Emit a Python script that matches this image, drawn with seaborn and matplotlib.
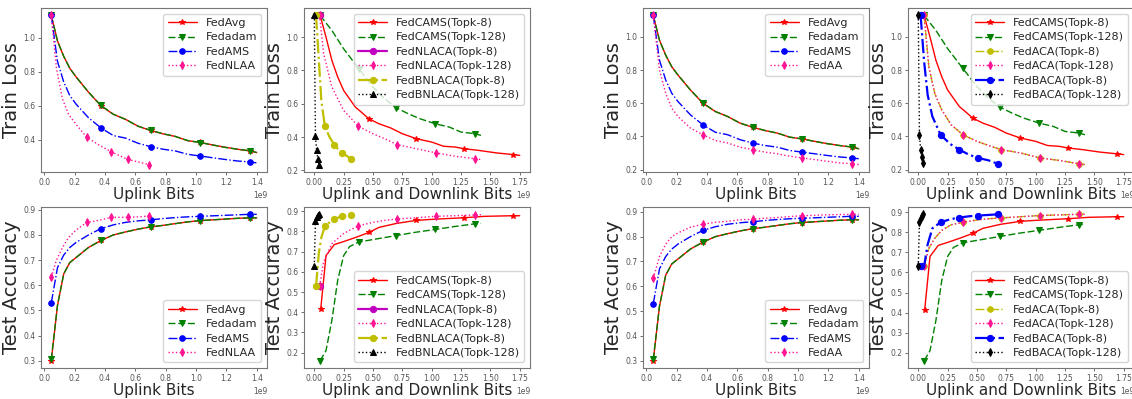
import matplotlib
matplotlib.use("Agg")
import matplotlib.pyplot as plt
import seaborn as sns
import pandas as pd

# ---- uplink bits (x in units of 1e9 bits) ----
up_x = [0.046, 0.087, 0.128, 0.168, 0.209, 0.291, 0.373, 0.455, 0.536, 0.618, 0.700,
        0.782, 0.863, 0.945, 1.027, 1.109, 1.190, 1.272, 1.354, 1.400]
up_marks = [0, 6, 10, 14, 18]

avg_loss = [1.13, 0.98, 0.89, 0.82, 0.77, 0.68, 0.60, 0.55, 0.52, 0.48, 0.455,
            0.435, 0.42, 0.395, 0.385, 0.37, 0.357, 0.345, 0.335, 0.325]
adam_loss = [1.13, 0.98, 0.89, 0.82, 0.77, 0.68, 0.602, 0.55, 0.52, 0.48, 0.456,
             0.436, 0.42, 0.396, 0.384, 0.37, 0.356, 0.345, 0.336, 0.326]
ams_loss = [1.13, 0.86, 0.74, 0.66, 0.61, 0.53, 0.47, 0.425, 0.41, 0.38, 0.36,
            0.345, 0.335, 0.315, 0.305, 0.295, 0.285, 0.276, 0.27, 0.265]
avg_acc = [0.30, 0.52, 0.645, 0.69, 0.71, 0.75, 0.778, 0.80, 0.812, 0.823, 0.832,
           0.838, 0.845, 0.852, 0.857, 0.860, 0.863, 0.866, 0.868, 0.868]
adam_acc = [0.305, 0.52, 0.645, 0.69, 0.71, 0.75, 0.778, 0.80, 0.812, 0.823, 0.832,
            0.838, 0.845, 0.852, 0.857, 0.860, 0.863, 0.866, 0.868, 0.868]
ams_acc = [0.53, 0.67, 0.72, 0.75, 0.77, 0.80, 0.825, 0.84, 0.85, 0.856, 0.86,
           0.865, 0.869, 0.872, 0.874, 0.876, 0.878, 0.880, 0.882, 0.882]

nlaa_x = [0.046, 0.08, 0.12, 0.16, 0.21, 0.28, 0.36, 0.44, 0.55, 0.62, 0.69]
nlaa_marks = [0, 5, 7, 8, 10]
nlaa_loss = [1.13, 0.82, 0.64, 0.55, 0.49, 0.415, 0.37, 0.33, 0.285, 0.27, 0.255]
nlaa_acc = [0.632, 0.70, 0.75, 0.79, 0.82, 0.85, 0.858, 0.87, 0.87, 0.872, 0.875]

aa_loss = [1.13, 0.80, 0.66, 0.57, 0.52, 0.45, 0.41, 0.375, 0.36, 0.335, 0.32,
           0.305, 0.295, 0.28, 0.27, 0.26, 0.25, 0.24, 0.235, 0.23]
aa_acc = [0.632, 0.72, 0.77, 0.80, 0.815, 0.838, 0.85, 0.858, 0.862, 0.868, 0.87,
          0.874, 0.877, 0.881, 0.884, 0.886, 0.888, 0.889, 0.89, 0.89]

# ---- uplink + downlink bits ----
cams8_x = [0.05, 0.10, 0.15, 0.20, 0.25, 0.30, 0.35, 0.40, 0.465, 0.55, 0.65, 0.75,
           0.87, 1.00, 1.10, 1.20, 1.275, 1.40, 1.55, 1.69, 1.75]
cams8_marks = [0, 8, 12, 16, 19]
cams8_loss = [1.13, 1.00, 0.86, 0.76, 0.68, 0.63, 0.58, 0.55, 0.51, 0.48, 0.455, 0.42,
              0.39, 0.37, 0.345, 0.34, 0.33, 0.32, 0.305, 0.295, 0.29]
cams8_acc_x = [0.055, 0.10, 0.17, 0.25, 0.35, 0.465, 0.55, 0.70, 0.87, 1.00, 1.10,
               1.275, 1.45, 1.69, 1.75]
cams8_acc_marks = [0, 5, 8, 11, 13]
cams8_acc = [0.415, 0.68, 0.735, 0.75, 0.77, 0.795, 0.82, 0.84, 0.855, 0.86, 0.863,
             0.868, 0.875, 0.878, 0.878]

cams128_x = [0.05, 0.15, 0.25, 0.38, 0.50, 0.60, 0.70, 0.80, 0.90, 1.03, 1.15, 1.25, 1.37, 1.42]
cams128_marks = [0, 3, 6, 9, 12]
cams128_loss = [1.13, 1.04, 0.93, 0.81, 0.70, 0.63, 0.575, 0.54, 0.51, 0.48, 0.46, 0.43, 0.42, 0.41]
cams128_acc_x = [0.05, 0.10, 0.15, 0.20, 0.25, 0.30, 0.38, 0.50, 0.70, 0.85, 1.03, 1.20, 1.37, 1.42]
cams128_acc_marks = [0, 6, 8, 10, 12]
cams128_acc = [0.16, 0.21, 0.36, 0.56, 0.68, 0.725, 0.748, 0.76, 0.78, 0.795, 0.81, 0.825, 0.838, 0.84]

nlaca8_x = [0.045]
nlaca8_loss = [1.13]
nlaca8_acc = [0.53]

nlaca128_x = [0.045, 0.08, 0.15, 0.25, 0.375, 0.50, 0.60, 0.705, 0.87, 1.035, 1.20, 1.365, 1.42]
nlaca128_marks = [0, 4, 7, 9, 11]
nlaca128_loss = [1.13, 0.90, 0.70, 0.56, 0.465, 0.42, 0.39, 0.355, 0.33, 0.305, 0.285, 0.27, 0.265]
nlaca128_acc = [0.53, 0.65, 0.74, 0.79, 0.828, 0.845, 0.855, 0.862, 0.868, 0.875, 0.878, 0.882, 0.883]

bnlaca8_x = [0.015, 0.04, 0.06, 0.09, 0.13, 0.17, 0.20, 0.24, 0.28, 0.31]
bnlaca8_marks = [0, 3, 5, 7, 9]
bnlaca8_loss = [1.13, 0.85, 0.62, 0.465, 0.40, 0.355, 0.33, 0.305, 0.285, 0.27]
bnlaca8_acc = [0.53, 0.70, 0.77, 0.825, 0.845, 0.862, 0.868, 0.875, 0.88, 0.882]

bnlaca128_x = [0.0, 0.01, 0.02, 0.03, 0.04]
bnlaca128_loss = [1.13, 0.405, 0.32, 0.27, 0.235]
bnlaca128_acc = [0.63, 0.85, 0.87, 0.88, 0.885]

aca_x = [0.05, 0.09, 0.14, 0.20, 0.28, 0.38, 0.50, 0.60, 0.705, 0.87, 1.035, 1.20, 1.365, 1.42]
aca_marks = [0, 5, 8, 10, 12]
aca_loss = [1.13, 0.82, 0.66, 0.56, 0.47, 0.41, 0.37, 0.345, 0.32, 0.30, 0.27, 0.255, 0.235, 0.23]
aca_acc = [0.632, 0.72, 0.77, 0.81, 0.838, 0.85, 0.862, 0.868, 0.872, 0.878, 0.884, 0.887, 0.89, 0.89]

baca8_x = [0.02, 0.05, 0.08, 0.12, 0.19, 0.27, 0.35, 0.43, 0.51, 0.60, 0.675]
baca8_marks = [0, 4, 6, 8, 10]
baca8_loss = [1.13, 0.85, 0.65, 0.52, 0.41, 0.355, 0.32, 0.29, 0.27, 0.255, 0.235]
baca8_acc = [0.632, 0.632, 0.74, 0.82, 0.85, 0.865, 0.874, 0.88, 0.884, 0.887, 0.89]

baca128_x = [0.0, 0.01, 0.02, 0.03, 0.04]
baca128_loss = [1.13, 0.41, 0.32, 0.275, 0.24]
baca128_acc = [0.632, 0.85, 0.87, 0.88, 0.89]

sns.set_style("ticks", {"axes.edgecolor": "#777777", "xtick.color": "#555555",
                        "ytick.color": "#555555"})

fig = plt.figure(figsize=(11.32, 3.99), dpi=100)
W, H = 1132, 399
lefts = [41, 304, 643, 908]
tops = [8, 207]
bottoms = [172, 368]
axw = 226
axes = [[fig.add_axes([l / W, 1 - b / H, axw / W, (b - t) / H])
         for l in lefts] for t, b in zip(tops, bottoms)]


def draw(ax, x, y, label, color, ls, marker, ms=4, every=None, lw=1.0):
    df = pd.DataFrame({"x": [v * 1e9 for v in x], "y": y})
    sns.lineplot(data=df, x="x", y="y", ax=ax, color=color, linestyle=ls, marker=marker,
                 markersize=ms, markevery=every, linewidth=lw, label=label,
                 markeredgecolor=color, sort=False, estimator=None)


def uplink_panel(ax, ys, last_label):
    draw(ax, up_x, ys[0], "FedAvg", "red", "-", "*", 4, up_marks)
    draw(ax, up_x, ys[1], "Fedadam", "green", (0, (5, 2)), "v", 4, up_marks)
    draw(ax, up_x, ys[2], "FedAMS", "blue", "-.", "o", 4, up_marks)
    draw(ax, ys[3][0], ys[3][1], last_label, "deeppink", ":", "d", 4, ys[3][2])


def finish(ax, ylabel, xlabel, loc):
    ax.set_xlabel(xlabel, fontsize=11, labelpad=0)
    ax.set_ylabel(ylabel, fontsize=14, labelpad=2)
    ax.tick_params(labelsize=5.5, length=2.5, width=0.6, pad=1.5)
    ax.xaxis.get_offset_text().set_fontsize(5.5)
    for s in ax.spines.values():
        s.set_visible(True)
        s.set_linewidth(0.8)
    ax.legend(loc=loc, fontsize=8, handlelength=2.6, labelspacing=0.4,
              borderpad=0.4, framealpha=0.8, edgecolor="#cccccc")


# left group
uplink_panel(axes[0][0], [avg_loss, adam_loss, ams_loss, (nlaa_x, nlaa_loss, nlaa_marks)], "FedNLAA")
uplink_panel(axes[1][0], [avg_acc, adam_acc, ams_acc, (nlaa_x, nlaa_acc, nlaa_marks)], "FedNLAA")
uplink_panel(axes[0][2], [avg_loss, adam_loss, ams_loss, (up_x, aa_loss, up_marks)], "FedAA")
uplink_panel(axes[1][2], [avg_acc, adam_acc, ams_acc, (up_x, aa_acc, up_marks)], "FedAA")

# uplink + downlink, NLACA group
ax = axes[0][1]
draw(ax, cams8_x, cams8_loss, "FedCAMS(Topk-8)", "red", "-", "*", 4, cams8_marks)
draw(ax, cams128_x, cams128_loss, "FedCAMS(Topk-128)", "green", (0, (5, 2)), "v", 4, cams128_marks)
draw(ax, nlaca8_x, nlaca8_loss, "FedNLACA(Topk-8)", "m", "-", "o", 4.5, None, 1.6)
draw(ax, nlaca128_x, nlaca128_loss, "FedNLACA(Topk-128)", "deeppink", ":", "d", 4, nlaca128_marks)
draw(ax, bnlaca8_x, bnlaca8_loss, "FedBNLACA(Topk-8)", "y", "-.", "o", 4.5, bnlaca8_marks, 1.6)
draw(ax, bnlaca128_x, bnlaca128_loss, "FedBNLACA(Topk-128)", "black", ":", "^", 4)

ax = axes[1][1]
draw(ax, cams8_acc_x, cams8_acc, "FedCAMS(Topk-8)", "red", "-", "*", 4, cams8_acc_marks)
draw(ax, cams128_acc_x, cams128_acc, "FedCAMS(Topk-128)", "green", (0, (5, 2)), "v", 4, cams128_acc_marks)
draw(ax, nlaca8_x, nlaca8_acc, "FedNLACA(Topk-8)", "m", "-", "o", 4.5, None, 1.6)
draw(ax, nlaca128_x, nlaca128_acc, "FedNLACA(Topk-128)", "deeppink", ":", "d", 4, nlaca128_marks)
draw(ax, bnlaca8_x, bnlaca8_acc, "FedBNLACA(Topk-8)", "y", "-.", "o", 4.5, bnlaca8_marks, 1.6)
draw(ax, bnlaca128_x, bnlaca128_acc, "FedBNLACA(Topk-128)", "black", ":", "^", 4)

# uplink + downlink, ACA group
ax = axes[0][3]
draw(ax, cams8_x, cams8_loss, "FedCAMS(Topk-8)", "red", "-", "*", 4, cams8_marks)
draw(ax, cams128_x, cams128_loss, "FedCAMS(Topk-128)", "green", (0, (5, 2)), "v", 4, cams128_marks)
draw(ax, aca_x, aca_loss, "FedACA(Topk-8)", "y", "-.", "o", 4, aca_marks)
draw(ax, aca_x, aca_loss, "FedACA(Topk-128)", "deeppink", ":", "d", 4, aca_marks)
draw(ax, baca8_x, baca8_loss, "FedBACA(Topk-8)", "blue", "-.", "o", 4.5, baca8_marks, 1.6)
draw(ax, baca128_x, baca128_loss, "FedBACA(Topk-128)", "black", ":", "d", 4)

ax = axes[1][3]
draw(ax, cams8_acc_x, cams8_acc, "FedCAMS(Topk-8)", "red", "-", "*", 4, cams8_acc_marks)
draw(ax, cams128_acc_x, cams128_acc, "FedCAMS(Topk-128)", "green", (0, (5, 2)), "v", 4, cams128_acc_marks)
draw(ax, aca_x, aca_acc, "FedACA(Topk-8)", "y", "-.", "o", 4, aca_marks)
draw(ax, aca_x, aca_acc, "FedACA(Topk-128)", "deeppink", ":", "d", 4, aca_marks)
draw(ax, baca8_x, baca8_acc, "FedBACA(Topk-8)", "blue", "-.", "o", 4.5, baca8_marks, 1.6)
draw(ax, baca128_x, baca128_acc, "FedBACA(Topk-128)", "black", ":", "d", 4)

for col in range(4):
    xl = "Uplink Bits" if col in (0, 2) else "Uplink and Downlink Bits"
    finish(axes[0][col], "Train Loss", xl, "upper right")
    finish(axes[1][col], "Test Accuracy", xl, "lower right")

fig.savefig("out.png", dpi=100)
